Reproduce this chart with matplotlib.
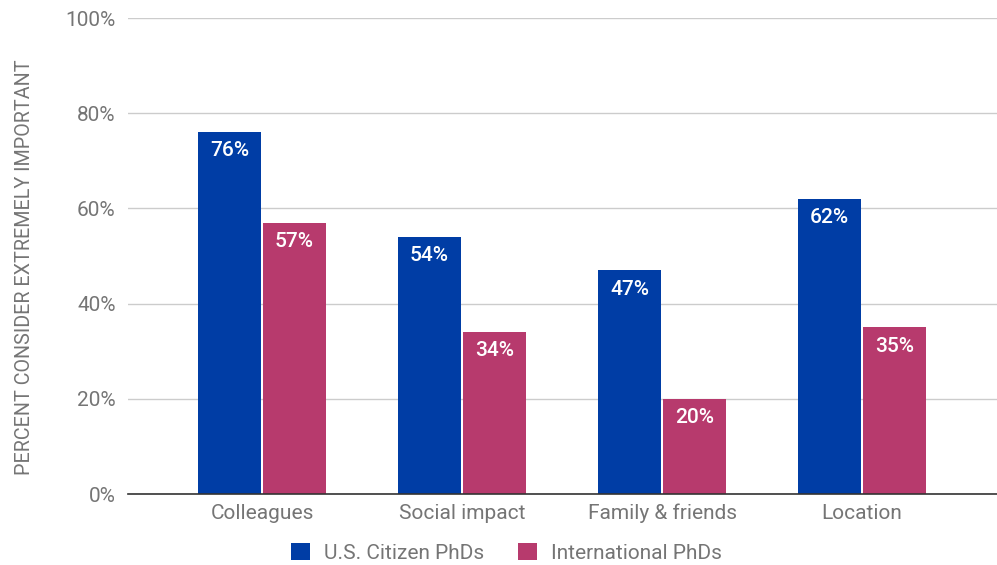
import matplotlib.pyplot as plt
import numpy as np

plt.rcParams['font.family'] = ['Roboto', 'DejaVu Sans']

categories = ['Colleagues', 'Social impact', 'Family & friends', 'Location']
us_citizen = [76, 54, 47, 62]
international = [57, 34, 20, 35]
series_names = ['U.S. Citizen PhDs', 'International PhDs']
y_ticks = [0, 20, 40, 60, 80, 100]

blue = '#003da5'
pink = '#b73a6d'
grey = '#757575'

fig = plt.figure(figsize=(9.97, 5.65), dpi=100)
ax = fig.add_axes([128 / 997, 71 / 565, 869 / 997, 476 / 565])

x = np.arange(len(categories))
w = 0.315
gap = 0.005
b1 = ax.bar(x - w / 2 - gap, us_citizen, w, color=blue, label=series_names[0], zorder=3)
b2 = ax.bar(x + w / 2 + gap, international, w, color=pink, label=series_names[1], zorder=3)

# value labels inside the top of each bar
for bars, vals in ((b1, us_citizen), (b2, international)):
    for rect, v in zip(bars, vals):
        ax.annotate(f'{v}%', (rect.get_x() + rect.get_width() / 2, v),
                    xytext=(0, -13.5), textcoords='offset points',
                    ha='center', va='center', color='white',
                    fontsize=15, fontweight='medium', zorder=4)

ax.set_xlim(-0.67, 3.675)
ax.set_ylim(0, 100)
ax.set_yticks(y_ticks)
ax.set_yticklabels([f'{t}%' for t in y_ticks])
ax.set_xticks(x)
ax.set_xticklabels(categories)
ax.tick_params(axis='both', length=0, colors=grey, labelsize=15)
ax.tick_params(axis='y', pad=9)
ax.tick_params(axis='x', pad=7)

ax.yaxis.grid(True, color='#cccccc', linewidth=1, zorder=0)
for s in ['top', 'right', 'left']:
    ax.spines[s].set_visible(False)
ax.spines['bottom'].set_color('#333333')
ax.spines['bottom'].set_linewidth(1.2)
ax.spines['bottom'].set_zorder(5)

ax.set_ylabel('PERCENT CONSIDER EXTREMELY IMPORTANT', color=grey, fontsize=14.2)
ax.yaxis.set_label_coords(-0.108, 0.477)

fig.legend(loc='center', bbox_to_anchor=(0.508, 12 / 565), ncol=2, frameon=False,
           fontsize=15, labelcolor=grey, handlelength=0.9, handleheight=0.9,
           columnspacing=1.6, handletextpad=0.7)

fig.savefig('out.png', dpi=100)
